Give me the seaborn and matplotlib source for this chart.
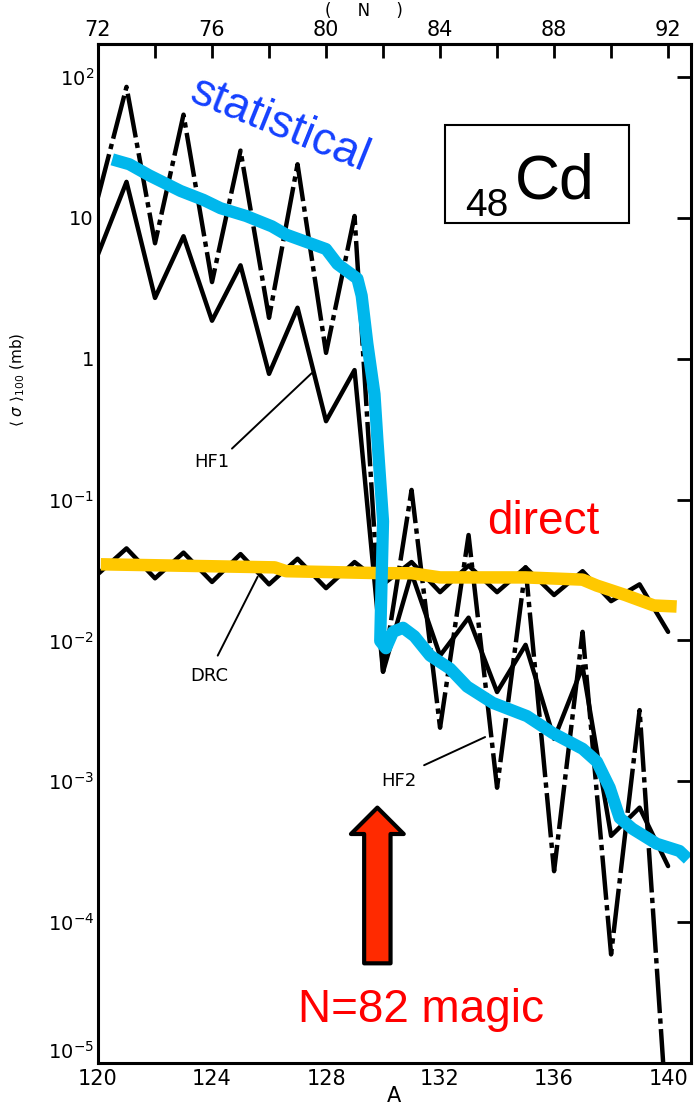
import numpy as np
import pandas as pd
import matplotlib
matplotlib.use("Agg")
import matplotlib.pyplot as plt
import seaborn as sns
from matplotlib.patches import Rectangle

# ---------------- data ----------------
A = list(range(120, 141))

# HF curves: dash-dot branch and solid branch
hf_dashdot = [14, 85, 6.6, 54, 3.5, 30, 1.95, 24, 1.1, 10.3, 0.006,
              0.117, 0.0024, 0.056, 0.0009, 0.033, 0.00023, 0.0115, 5.9e-5, 0.0032, 3e-6]
hf_solid = [5.5, 18, 2.7, 7.4, 1.86, 4.6, 0.78, 2.3, 0.36, 0.83, 0.006,
            0.03, 0.0078, 0.0145, 0.0043, 0.0093, 0.002, 0.0065, 0.00041, 0.00065, 0.00025]
drc = [0.0296, 0.045, 0.0276, 0.042, 0.026, 0.041, 0.025, 0.038, 0.0235, 0.036, 0.025,
       0.036, 0.022, 0.034, 0.022, 0.033, 0.021, 0.031, 0.019, 0.025, 0.0115]

# hand-drawn overlays
stat_A = [120.5, 121.1, 121.8, 122.9, 123.7, 124.3, 125.2, 126.1, 126.6, 128.0,
          128.4, 129.1, 129.25, 129.45, 129.7, 129.8, 130.0, 129.95, 129.9, 130.1,
          130.35, 130.7, 131.1, 131.65, 132.35, 132.95, 133.85, 135.05, 135.95, 137.0,
          137.5, 137.95, 138.3, 138.75, 139.6, 140.4, 140.7]
stat_val = [26, 24, 20, 15.5, 13.4, 11.7, 10.3, 8.7, 7.6, 6.0,
            4.7, 3.7, 2.8, 1.28, 0.56, 0.27, 0.07, 0.027, 0.0099, 0.0088,
            0.0115, 0.0123, 0.0107, 0.0078, 0.0063, 0.0047, 0.0036, 0.0029, 0.0022, 0.0017,
            0.00138, 0.0009, 0.00055, 0.00046, 0.00036, 0.00032, 0.00028]

direct_A = [120.1, 126.2, 126.6, 130.0, 131.0, 132.0, 135.0, 137.0, 137.5, 138.5, 139.5, 140.3]
direct_val = [0.0347, 0.033, 0.031, 0.030, 0.030, 0.028, 0.028, 0.027, 0.0245, 0.021, 0.0177, 0.0174]

x_major = [120, 124, 128, 132, 136, 140]
x_minor = [122, 126, 130, 134, 138]
n_major = [72, 76, 80, 84, 88, 92]
n_minor = [74, 78, 82, 86, 90]
y_ticks = [1e-5, 1e-4, 1e-3, 1e-2, 1e-1, 1, 10, 100]
y_labels = [r"$10^{-5}$", r"$10^{-4}$", r"$10^{-3}$", r"$10^{-2}$", r"$10^{-1}$", "1", "10", r"$10^{2}$"]

# ---------------- figure ----------------
sns.set_style("white")
plt.rcParams["font.family"] = ["DejaVu Sans"]
plt.rcParams["text.color"] = "black"
plt.rcParams["axes.labelcolor"] = "black"
plt.rcParams["xtick.color"] = "black"
plt.rcParams["ytick.color"] = "black"

fig = plt.figure(figsize=(7, 11.18), dpi=100)
ax = fig.add_axes([0.140, 0.0492, 0.847, 0.911])

sns.lineplot(x=A, y=hf_dashdot, ax=ax, color="black", lw=3.2,
             linestyle=(0, (10, 1.2, 1.2, 1.2)), estimator=None)
sns.lineplot(x=A, y=hf_solid, ax=ax, color="black", lw=3.2, estimator=None)
sns.lineplot(x=A, y=drc, ax=ax, color="black", lw=3.2, estimator=None)

sns.lineplot(x=direct_A, y=direct_val, ax=ax, color="#ffc800", lw=9,
             estimator=None, sort=False, solid_capstyle="butt")
sns.lineplot(x=stat_A, y=stat_val, ax=ax, color="#00b7ec", lw=8.8,
             estimator=None, sort=False, solid_capstyle="butt", solid_joinstyle="round")

ax.set_yscale("log")
ax.set_xlim(120, 140.8)
ax.set_ylim(1e-5, 170)

# pointer lines for curve labels
ax.plot([124.2, 125.6], [0.0078, 0.0283], color="black", lw=1.4)
ax.plot([124.7, 127.5], [0.23, 0.79], color="black", lw=1.4)
ax.plot([131.44, 133.58], [0.0013, 0.00206], color="black", lw=1.4)
ax.text(124.0, 0.184, "HF1", ha="center", va="center", fontsize=13)
ax.text(123.9, 0.0056, "DRC", ha="center", va="center", fontsize=13)
ax.text(130.56, 0.001, "HF2", ha="center", va="center", fontsize=13)

# red arrow at N=82
ax.annotate("", xy=(129.8, 6.5e-4), xytext=(129.8, 5.1e-5),
            arrowprops=dict(facecolor="#ff2a00", edgecolor="black", lw=3,
                            width=19, headwidth=38, headlength=19, shrink=0))

# overlay annotations
ann = ["Liberation Sans", "DejaVu Sans"]
ax.text(0.307, 0.921, "statistical", transform=ax.transAxes, color="#1440ff",
        fontsize=33, rotation=-22, ha="center", va="center", rotation_mode="anchor", family=ann)
ax.text(0.656, 0.519, "direct", transform=ax.transAxes, color="#ff0000",
        fontsize=33, ha="left", va="baseline", family=ann)
ax.text(0.544, 0.040, "N=82 magic", transform=ax.transAxes, color="#ff0000",
        fontsize=33, ha="center", va="baseline", family=ann)

ax.add_patch(Rectangle((0.586, 0.825), 0.309, 0.096, transform=ax.transAxes,
                       fill=False, edgecolor="black", lw=1.5))
ax.text(0.619, 0.832, "48", transform=ax.transAxes, fontsize=28, ha="left",
        va="baseline", color="black", family=ann)
ax.text(0.703, 0.849, "Cd", transform=ax.transAxes, fontsize=45, ha="left",
        va="baseline", color="black", family=ann)

# axes styling
for spine in ax.spines.values():
    spine.set_visible(True)
    spine.set_color("black")
    spine.set_linewidth(2.2)

ax.set_xticks(x_major)
ax.set_xticks(x_minor, minor=True)
ax.set_xticklabels([str(v) for v in x_major])
ax.set_yticks(y_ticks)
ax.set_yticklabels(y_labels)
ax.yaxis.set_minor_locator(matplotlib.ticker.NullLocator())
ax.tick_params(axis="x", which="both", direction="in", length=10, width=2, labelsize=15, pad=4)
ax.tick_params(axis="y", which="both", direction="in", length=10, width=2, labelsize=14,
               right=True, pad=3)
ax.get_yticklabels()[0].set_va("bottom")

sec = ax.secondary_xaxis("top", functions=(lambda a: a - 48, lambda n: n + 48))
sec.set_xticks(n_major)
sec.set_xticks(n_minor, minor=True)
sec.set_xticklabels([str(v) for v in n_major])
sec.tick_params(axis="x", which="both", direction="in", length=10, width=2, labelsize=15, pad=3)
sec.spines["top"].set_linewidth(2.2)

ax.set_xlabel("A", fontsize=15, labelpad=-2)
ax.set_ylabel("")
fig.text(0.026, 0.66, r"$\langle\ \sigma\ \rangle_{100}$ (mb)", rotation=90,
         ha="center", va="center", fontsize=11)
fig.text(0.52, 0.998, "(     N     )", ha="center", va="top", fontsize=12)

fig.savefig("out.png", dpi=100)
